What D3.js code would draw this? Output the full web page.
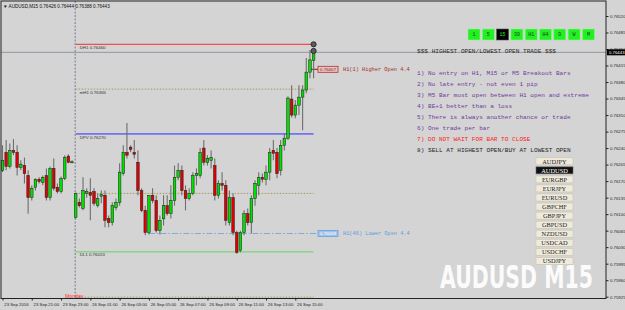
<!DOCTYPE html>
<html>
<head>
<meta charset="utf-8">
<script src="https://cdn.jsdelivr.net/npm/d3@7"></script>
<style>
  body { margin: 0; background: #d4d4d4; }
  svg { display: block; }
</style>
</head>
<body>
<svg id="chart" width="625" height="310"></svg>
<script>
// AUDUSD M15, 23 Sep 19:00 -> 26 Sep 16:15 (one value per bar)
var opens = [0.76193,0.76231,0.76201,0.76235,0.76231,0.76199,0.76203,0.76182,0.76135,0.76157,
  0.76174,0.76167,0.76182,0.76135,0.76197,0.76157,0.76148,0.76176,0.76223,0.76210,
  0.76093,0.76125,0.76112,0.76144,0.76146,0.76148,0.76118,0.76138,0.76140,0.76091,
  0.76082,0.76114,0.76125,0.76186,0.76231,0.76242,0.76231,0.76210,0.76150,0.76108,
  0.76061,0.76140,0.76129,0.76065,0.76090,0.76118,0.76101,0.76129,0.76178,0.76193,
  0.76150,0.76133,0.76144,0.76182,0.76182,0.76240,0.76210,0.76214,0.76203,0.76140,
  0.76165,0.76161,0.76082,0.76135,0.76061,0.76023,0.76061,0.76101,0.76082,0.76133,
  0.76161,0.76178,0.76174,0.76189,0.76235,0.76231,0.76193,0.76246,0.76261,0.76344,
  0.76310,0.76331,0.76348,0.76363,0.76401,0.76426];
var highs = [0.76246,0.76257,0.76250,0.76259,0.76246,0.76214,0.76220,0.76193,0.76161,0.76176,
  0.76178,0.76182,0.76197,0.76201,0.76218,0.76165,0.76180,0.76225,0.76227,0.76214,
  0.76146,0.76133,0.76178,0.76155,0.76176,0.76155,0.76144,0.76150,0.76150,0.76097,
  0.76125,0.76133,0.76208,0.76246,0.76293,0.76246,0.76257,0.76235,0.76155,0.76118,
  0.76140,0.76155,0.76140,0.76097,0.76140,0.76140,0.76161,0.76203,0.76208,0.76203,
  0.76161,0.76155,0.76189,0.76197,0.76240,0.76257,0.76225,0.76235,0.76218,0.76172,
  0.76189,0.76172,0.76150,0.76144,0.76065,0.76065,0.76108,0.76112,0.76140,0.76172,
  0.76189,0.76186,0.76203,0.76240,0.76257,0.76240,0.76257,0.76271,0.76350,0.76373,
  0.76342,0.76373,0.76373,0.76431,0.76448,0.76444];
var lows = [0.76189,0.76193,0.76197,0.76225,0.76182,0.76193,0.76165,0.76101,0.76129,0.76150,
  0.76165,0.76161,0.76129,0.76129,0.76150,0.76144,0.76144,0.76172,0.76208,0.76208,
  0.76091,0.76114,0.76108,0.76135,0.76087,0.76118,0.76114,0.76123,0.76072,0.76072,
  0.76076,0.76108,0.76118,0.76182,0.76218,0.76231,0.76218,0.76140,0.76104,0.76055,
  0.76057,0.76123,0.76061,0.76057,0.76076,0.76097,0.76091,0.76118,0.76172,0.76140,
  0.76108,0.76129,0.76140,0.76161,0.76176,0.76203,0.76203,0.76197,0.76129,0.76133,
  0.76150,0.76076,0.76076,0.76055,0.76016,0.76019,0.76055,0.76076,0.76059,0.76118,
  0.76140,0.76167,0.76161,0.76172,0.76214,0.76176,0.76182,0.76235,0.76257,0.76305,
  0.76303,0.76310,0.76278,0.76356,0.76388,0.76388];
var closes = [0.76214,0.76201,0.76235,0.76231,0.76199,0.76206,0.76186,0.76135,0.76155,0.76174,
  0.76169,0.76178,0.76135,0.76197,0.76155,0.76148,0.76176,0.76220,0.76210,0.76211,
  0.76144,0.76118,0.76150,0.76148,0.76140,0.76123,0.76133,0.76142,0.76087,0.76082,
  0.76118,0.76125,0.76189,0.76231,0.76225,0.76237,0.76227,0.76150,0.76108,0.76061,
  0.76140,0.76129,0.76065,0.76087,0.76118,0.76101,0.76129,0.76178,0.76193,0.76150,
  0.76133,0.76144,0.76182,0.76186,0.76231,0.76210,0.76218,0.76220,0.76140,0.76165,
  0.76161,0.76087,0.76135,0.76061,0.76019,0.76061,0.76101,0.76082,0.76133,0.76165,
  0.76178,0.76174,0.76189,0.76231,0.76229,0.76186,0.76246,0.76261,0.76346,0.76310,
  0.76331,0.76348,0.76363,0.76401,0.76427,0.76443];

// time axis labels, every 8 bars
var timeLabels = ['23 Sep 2016','23 Sep 21:00','23 Sep 23:00','26 Sep 01:00','26 Sep 03:00','26 Sep 05:00',
  '26 Sep 07:00','26 Sep 09:00','26 Sep 11:00','26 Sep 13:00','26 Sep 15:00'];
var timeLabelIdx = [0,8,16,24,32,40,48,56,64,72,80];

// price axis labels
var priceTicks = [0.76520,0.76485,0.76450,0.76415,0.76380,0.76345,0.76310,0.76275,0.76240,
  0.76205,0.76170,0.76135,0.76100,0.76065,0.76030,0.75995,0.75960,0.75925];
var lastPrice = 0.76443;

// daily pivot levels
var levelNames = ['DH1','mH1','DPV','DL1'];
var levelValues = [0.76460,0.76365,0.76270,0.76020];
var levelColors = ['#ff2a2a','#a39b5c','#2b2bff','#5fd65f'];
var extraDotted = [0.76144,0.75924];
var mondayBar = 20;

// H1 open markers
var hiOpen = 0.76407, hiOpenText = 'H1(1) Higher Open 4.4';
var loOpen = 0.76059, loOpenText = 'H1(46) Lower Open 4.4', loOpenStart = 40;
var markers = [0.76460, 0.76446];

var timeframes = ['1','5','15','30','H1','H4','D','W','M'];
var activeTf = '15';
var symbols = ['AUDJPY','AUDUSD','EURGBP','EURJPY','EURUSD','GBPCHF','GBPJPY','GBPUSD','NZDUSD','USDCAD','USDCHF','USDJPY'];
var activeSymbol = 'AUDUSD';

var rulesTitle = '$$$ HIGHEST OPEN/LOWEST OPEN TRADE $$$';
var rules = ['1) No entry on H1, M15 or M5 Breakout Bars',
  '2) No late entry - not even 1 pip',
  '3) M5 Bar must open between H1 open and extreme',
  '4) BE+1 better than a loss',
  '5) There is always another chance or trade',
  '6) One trade per bar',
  '7) DO NOT WAIT FOR BAR TO CLOSE',
  '8) SELL AT HIGHEST OPEN/BUY AT LOWEST OPEN'];
var ruleColors = ['#6f3aa0','#6f3aa0','#6f3aa0','#6f3aa0','#6f3aa0','#6f3aa0','#ff2020','#1e1e1e'];

var frame = {left: 1, top: 1, right: 606, bottom: 298.5};

var svg = d3.select('#chart');
svg.append('rect').attr('width', 625).attr('height', 310).attr('fill', '#d4d4d4');

var x = d3.scaleLinear().domain([0, 85]).range([2.5, 313.6]);
var y = d3.scaleLinear().domain([0.75925, 0.76520]).range([296.7, 16]);

// watermark, squeezed to the width it has in the screenshot
var wm = svg.append('text')
  .style('font-family', '"Liberation Sans Narrow", "DejaVu Sans Condensed", sans-serif')
  .style('font-weight', 'bold').style('font-size', '32px')
  .attr('fill', '#fbfbfb')
  .text('AUDUSD M15');
var wmWidth = wm.node().getComputedTextLength();
wm.attr('transform', 'translate(440,288) scale(' + (153 / wmWidth) + ',1)');

// current price line
svg.append('line')
  .attr('x1', frame.left).attr('x2', frame.right)
  .attr('y1', y(lastPrice)).attr('y2', y(lastPrice))
  .attr('stroke', '#8d99a3').attr('stroke-width', 1);

// day separator
svg.append('line')
  .attr('x1', x(mondayBar) - 0.5).attr('x2', x(mondayBar) - 0.5)
  .attr('y1', frame.top).attr('y2', frame.bottom)
  .attr('stroke', '#8e93a6').attr('stroke-width', 1.4).attr('stroke-dasharray', '2,1.5');

// pivot level lines
levelValues.forEach(function(v, i) {
  var dotted = levelNames[i] === 'mH1';
  svg.append('line')
    .attr('x1', x(mondayBar)).attr('x2', x(85))
    .attr('y1', y(v)).attr('y2', y(v))
    .attr('stroke', levelColors[i]).attr('stroke-width', 1)
    .attr('stroke-dasharray', dotted ? '1.5,1.5' : null);
  svg.append('text')
    .attr('x', x(mondayBar) + 4).attr('y', y(v) + 4.6)
    .style('font-family', '"Liberation Sans", sans-serif').style('font-size', '4.4px')
    .attr('fill', '#333')
    .text(levelNames[i] + '  ' + d3.format('.5f')(v));
});
extraDotted.forEach(function(v) {
  svg.append('line')
    .attr('x1', x(mondayBar)).attr('x2', x(85))
    .attr('y1', y(v)).attr('y2', y(v))
    .attr('stroke', '#a39b5c').attr('stroke-dasharray', '1.5,1.5');
});

// lower open dash-dot line
svg.append('line')
  .attr('x1', x(loOpenStart)).attr('x2', 318)
  .attr('y1', y(loOpen)).attr('y2', y(loOpen))
  .attr('stroke', '#7fa9dc').attr('stroke-dasharray', '6,2,1.5,2');
// higher open connector
svg.append('line')
  .attr('x1', x(84)).attr('x2', 318)
  .attr('y1', y(hiOpen)).attr('y2', y(hiOpen))
  .attr('stroke', '#8b1a1a');

// candles
var bars = d3.range(opens.length);
svg.append('g').selectAll('line')
  .data(bars).enter().append('line')
    .attr('x1', function(i) { return x(i); })
    .attr('x2', function(i) { return x(i); })
    .attr('y1', function(i) { return y(highs[i]); })
    .attr('y2', function(i) { return y(lows[i]); })
    .attr('stroke', '#6e6e6e').attr('stroke-width', 1.1);
svg.append('g').selectAll('rect')
  .data(bars).enter().append('rect')
    .attr('x', function(i) { return x(i) - 1.3; })
    .attr('width', 2.6)
    .attr('y', function(i) { return y(Math.max(opens[i], closes[i])); })
    .attr('height', function(i) { return Math.max(1, Math.abs(y(opens[i]) - y(closes[i]))); })
    .attr('fill', function(i) { return closes[i] >= opens[i] ? '#00e000' : '#e00000'; })
    .attr('stroke', '#1c1c1c').attr('stroke-width', 0.5);

// markers on last bar
svg.append('g').selectAll('circle')
  .data(markers).enter().append('circle')
    .attr('cx', x(85)).attr('cy', function(d) { return y(d); })
    .attr('r', 2.6)
    .attr('fill', '#5a5a5a').attr('stroke', '#1e1e1e').attr('stroke-width', 0.8);

// open labels
function openLabel(v, txt, fill, stroke, textFill, labelFill) {
  svg.append('rect')
    .attr('x', 318).attr('y', y(v) - 3).attr('width', 20).attr('height', 6)
    .attr('fill', fill).attr('stroke', stroke).attr('stroke-width', 0.8);
  svg.append('text')
    .attr('x', 328).attr('y', y(v) + 1.6).attr('text-anchor', 'middle')
    .style('font-family', '"Liberation Sans", sans-serif').style('font-size', '4.4px')
    .attr('fill', textFill).text(d3.format('.5f')(v));
  svg.append('text')
    .attr('x', 343).attr('y', y(v) + 1.8)
    .style('font-family', '"Liberation Mono", monospace').style('font-size', '5.3px')
    .attr('fill', labelFill).text(txt);
}
openLabel(hiOpen, hiOpenText, '#e7c4c4', '#b03030', '#8b1a1a', '#a52a2a');
openLabel(loOpen, loOpenText, '#9fc3ee', '#6f9fd8', '#ffffff', '#5d9be0');

svg.append('text')
  .attr('x', 65).attr('y', 297.5)
  .style('font-family', '"Liberation Sans", sans-serif').style('font-size', '5.2px')
  .attr('fill', '#ff3030').text('Monday');

// frame
svg.append('rect')
  .attr('x', frame.left).attr('y', frame.top)
  .attr('width', frame.right - frame.left).attr('height', frame.bottom - frame.top)
  .attr('fill', 'none').attr('stroke', '#222').attr('stroke-width', 1);

// price axis
var yAxis = svg.append('g')
  .attr('transform', 'translate(' + frame.right + ',0)')
  .call(d3.axisRight(y).tickValues(priceTicks).tickSize(2.5).tickPadding(1.5)
    .tickFormat(d3.format('.5f')));
yAxis.select('.domain').remove();
yAxis.selectAll('text').style('font-family', '"Liberation Sans", sans-serif')
  .style('font-size', '4.3px').attr('fill', '#222');
yAxis.selectAll('line').attr('stroke', '#222');

svg.append('rect')
  .attr('x', 607).attr('y', y(lastPrice) - 3).attr('width', 18).attr('height', 6)
  .attr('fill', '#000');
svg.append('text')
  .attr('x', 609).attr('y', y(lastPrice) + 1.6)
  .style('font-family', '"Liberation Sans", sans-serif').style('font-size', '4.3px')
  .attr('fill', '#fff').text(d3.format('.5f')(lastPrice));

// time axis
var xAxis = svg.append('g')
  .attr('transform', 'translate(0,' + frame.bottom + ')')
  .call(d3.axisBottom(x).tickValues(timeLabelIdx).tickSize(2).tickPadding(2.5)
    .tickFormat(function(d, i) { return timeLabels[i]; }));
xAxis.select('.domain').remove();
xAxis.selectAll('text').attr('text-anchor', 'start').attr('dx', '0.3em')
  .style('font-family', '"Liberation Sans", sans-serif').style('font-size', '4.3px')
  .attr('fill', '#222');
xAxis.selectAll('line').attr('stroke', '#222');

// title
svg.append('text')
  .attr('x', 3).attr('y', 7.5)
  .style('font-family', '"Liberation Sans", sans-serif').style('font-size', '4.6px')
  .attr('fill', '#111')
  .text('\u25BC AUDUSD,M15  0.76426 0.76444 0.76388 0.76443');

// timeframe buttons
var tf = svg.append('g').selectAll('g')
  .data(timeframes).enter().append('g')
    .attr('transform', function(d, i) { return 'translate(' + (468 + i * 14.3) + ',29)'; });
tf.append('rect').attr('width', 12).attr('height', 11)
  .attr('fill', function(d) { return d === activeTf ? '#000' : '#22f022'; })
  .attr('stroke', function(d) { return d === activeTf ? '#555' : '#8cf58c'; }).attr('stroke-width', 0.6);
tf.append('text').attr('x', 6).attr('y', 7.3).attr('text-anchor', 'middle')
  .style('font-family', '"Liberation Mono", monospace').style('font-size', '5px')
  .attr('fill', function(d) { return d === activeTf ? '#22f022' : '#1a3a1a'; })
  .text(function(d) { return d; });

// rules text
svg.append('text')
  .attr('x', 417).attr('y', 53)
  .style('font-family', '"Liberation Mono", monospace').style('font-size', '6.1px')
  .attr('fill', '#2a2a2a').text(rulesTitle);
svg.append('g').selectAll('text')
  .data(rules).enter().append('text')
    .attr('x', 417).attr('y', function(d, i) { return 75 + i * 11; })
    .style('font-family', '"Liberation Mono", monospace').style('font-size', '6.1px')
    .attr('fill', function(d, i) { return ruleColors[i]; })
    .text(function(d) { return d; });

// symbol buttons
var sb = svg.append('g').selectAll('g')
  .data(symbols).enter().append('g')
    .attr('transform', function(d, i) { return 'translate(536,' + (157.8 + i * 9.05) + ')'; });
sb.append('rect').attr('width', 37).attr('height', 7)
  .attr('fill', function(d) { return d === activeSymbol ? '#111' : '#efebdc'; })
  .attr('stroke', function(d) { return d === activeSymbol ? '#666' : '#c9c2ad'; }).attr('stroke-width', 0.6);
sb.append('text').attr('x', 18.5).attr('y', 5.7).attr('text-anchor', 'middle')
  .style('font-family', '"Liberation Serif", serif').style('font-size', '6.4px')
  .attr('fill', function(d) { return d === activeSymbol ? '#fff' : '#222'; })
  .text(function(d) { return d; });
</script>
</body>
</html>
